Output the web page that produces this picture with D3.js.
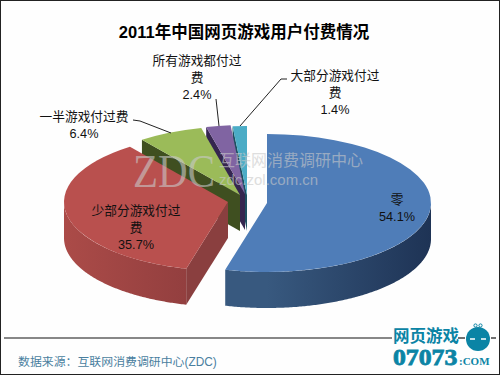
<!DOCTYPE html>
<html>
<head>
<meta charset="utf-8">
<script src="https://cdn.jsdelivr.net/npm/d3@7"></script>
<style>
    body { margin: 0; background: #fff; }
    svg { display: block; }
    text { font-family: "Liberation Sans", "Noto Sans CJK SC", sans-serif; }
</style>
</head>
<body>
<script>
// chart values
var categories = ["零", "少部分游戏付过费", "一半游戏付过费", "所有游戏都付过费", "大部分游戏付过费"];
var values = [54.1, 35.7, 6.4, 2.4, 1.4];
var topColors = ["#4f7db8", "#b9504e", "#9bbb59", "#8064a2", "#4bacc6"];
var faceColors = ["#2a4468", "#8a3f3f", "#3f4f20", "#35264f", "#1d4f60"];
var wallLeft = ["#38597f", "#ab4b48", "#3f4f20", "#35264f", "#1d4f60"];
var wallRight = ["#1e3355", "#933f3f", "#3f4f20", "#35264f", "#1d4f60"];

// where each exploded slice has its apex
var apexX = [267, 228, 240, 245, 247];
var apexY = [203, 202, 195, 194, 195];

var width = 500,
    height = 375,
    rx = 164,
    ry = 69,
    depth = 36;

var svg = d3.select("body").append("svg")
    .attr("width", width)
    .attr("height", height);

svg.append("rect")
    .attr("width", width)
    .attr("height", height)
    .attr("fill", "#fefefe");

var defs = svg.append("defs");

var pie = d3.pie().sort(null)(values);
var arc = d3.arc().innerRadius(0).outerRadius(rx);

function rimX(i, a) { return apexX[i] + rx * Math.sin(a); }
function rimY(i, a) { return apexY[i] - ry * Math.cos(a); }

// paint back slices first so the front ones cover them
d3.range(values.length - 1, -1, -1).forEach(function(i) {
    var d = pie[i];

    var grad = defs.append("linearGradient")
        .attr("id", "wall" + i)
        .attr("gradientUnits", "userSpaceOnUse")
        .attr("x1", rimX(i, Math.max(d.startAngle, Math.PI)))
        .attr("x2", rimX(i, Math.PI / 2))
        .attr("y1", 0)
        .attr("y2", 0);
    if (i === 1) {
        grad.attr("x1", rimX(i, 3 * Math.PI / 2)).attr("x2", rimX(i, d.startAngle));
    }
    grad.append("stop").attr("offset", 0).attr("stop-color", wallLeft[i]);
    grad.append("stop").attr("offset", 1).attr("stop-color", wallRight[i]);

    // flat cut face on the slice's starting edge
    var a0 = d.startAngle;
    svg.append("path")
        .attr("d", d3.line()([
            [apexX[i], apexY[i]],
            [rimX(i, a0), rimY(i, a0)],
            [rimX(i, a0), rimY(i, a0) + depth],
            [apexX[i], apexY[i] + depth]
        ]) + "Z")
        .attr("fill", faceColors[i]);

    // outer wall, only the part turned towards the viewer
    var from = Math.max(d.startAngle, Math.PI / 2),
        to = Math.min(d.endAngle, 3 * Math.PI / 2);
    if (from < to) {
        var steps = d3.range(from, to, 0.01).concat([to]);
        svg.append("path")
            .attr("d", d3.area()
                .x(function(a) { return rimX(i, a); })
                .y0(function(a) { return rimY(i, a); })
                .y1(function(a) { return rimY(i, a) + depth; })(steps))
            .attr("fill", "url(#wall" + i + ")");
    }

    // top of the slice, a circle squashed into an ellipse
    svg.append("path")
        .attr("d", arc(d))
        .attr("transform", "translate(" + apexX[i] + "," + apexY[i] + ") scale(1," + (ry / rx) + ")")
        .attr("fill", topColors[i]);
});

// ZDC watermark
var mark = svg.append("g").attr("fill", "#c9c9c9").attr("opacity", 0.6);
mark.append("text")
    .text("ZDC")
    .attr("transform", "translate(133,187) scale(1,1.15)")
    .style("font-family", "'Liberation Serif', serif")
    .attr("font-size", 41);
mark.append("text")
    .text("互联网消费调研中心")
    .attr("x", 219)
    .attr("y", 166)
    .attr("font-size", 16);
mark.append("text")
    .text("zdc.zol.com.cn")
    .attr("x", 219)
    .attr("y", 185)
    .attr("font-size", 15);

// leader lines
var leaderLines = [
    [[216, 99], [219, 126]],
    [[133, 120], [140, 121], [171, 133]],
    [[287, 79], [281, 79], [240, 126]]
];
svg.selectAll("path.leader")
    .data(leaderLines)
    .enter()
    .append("path")
    .attr("class", "leader")
    .attr("d", d3.line())
    .attr("fill", "none")
    .attr("stroke", "#222")
    .attr("stroke-width", 1);

// data labels, name lines then the value
var labelLines = [
    ["零", "54.1%"],
    ["少部分游戏付过", "费", "35.7%"],
    ["一半游戏付过费", "6.4%"],
    ["所有游戏都付过", "费", "2.4%"],
    ["大部分游戏付过", "费", "1.4%"]
];
var labelX = [397, 136, 84, 197, 335];
var labelY = [204, 215, 121, 65, 80];

labelLines.forEach(function(lines, i) {
    lines.forEach(function(t, j) {
        svg.append("text")
            .text(t)
            .attr("x", labelX[i])
            .attr("y", labelY[i] + j * 17)
            .attr("text-anchor", "middle")
            .attr("font-size", 12.7)
            .attr("fill", "#111");
    });
});

// title
svg.append("text")
    .text("2011年中国网页游戏用户付费情况")
    .attr("x", 244)
    .attr("y", 38)
    .attr("text-anchor", "middle")
    .attr("font-size", 16.5)
    .attr("font-weight", "bold")
    .attr("fill", "#000");

// footer rule and source
svg.append("line")
    .attr("x1", 4).attr("x2", 392)
    .attr("y1", 338).attr("y2", 338)
    .attr("stroke", "#111")
    .attr("stroke-width", 1.2);
svg.append("line")
    .attr("x1", 458).attr("x2", 465)
    .attr("y1", 338).attr("y2", 338)
    .attr("stroke", "#111")
    .attr("stroke-width", 1.2);
svg.append("line")
    .attr("x1", 491).attr("x2", 496)
    .attr("y1", 338).attr("y2", 338)
    .attr("stroke", "#111")
    .attr("stroke-width", 1.2);
svg.append("text")
    .text("数据来源：互联网消费调研中心(ZDC)")
    .attr("x", 18)
    .attr("y", 366)
    .attr("font-size", 11.9)
    .attr("fill", "#4a7f9f");

// 07073 logo
var logoColor = "#0b84a5";
svg.append("text")
    .text("网页游戏")
    .attr("x", 393)
    .attr("y", 342)
    .attr("font-size", 16.5)
    .attr("font-weight", "bold")
    .attr("fill", logoColor);
svg.append("text")
    .text("07073")
    .attr("transform", "translate(393,365) scale(1.12,1)")
    .style("font-family", "'Liberation Serif', serif")
    .attr("font-size", 23)
    .attr("font-weight", "bold")
    .attr("stroke", logoColor)
    .attr("stroke-width", 0.8)
    .attr("fill", logoColor);
svg.append("text")
    .text(":COM")
    .attr("transform", "translate(459,365) scale(1.1,1)")
    .style("font-family", "'Liberation Serif', serif")
    .attr("font-size", 10)
    .attr("font-weight", "bold")
    .attr("fill", logoColor);
svg.append("circle")
    .attr("cx", 478).attr("cy", 339).attr("r", 12)
    .attr("fill", logoColor);
svg.append("circle")
    .attr("cx", 475.5).attr("cy", 325.5).attr("r", 1.6)
    .attr("fill", "none").attr("stroke", logoColor);
svg.append("circle")
    .attr("cx", 480.5).attr("cy", 325.5).attr("r", 1.6)
    .attr("fill", "none").attr("stroke", logoColor);
svg.append("line")
    .attr("x1", 470).attr("x2", 475)
    .attr("y1", 339).attr("y2", 339)
    .attr("stroke", "#fff").attr("stroke-width", 1.5);
svg.append("line")
    .attr("x1", 481).attr("x2", 486)
    .attr("y1", 339).attr("y2", 339)
    .attr("stroke", "#fff").attr("stroke-width", 1.5);

// outer frame
svg.append("rect")
    .attr("x", 0.5).attr("y", 0.5)
    .attr("width", width - 1).attr("height", height - 1)
    .attr("fill", "none")
    .attr("stroke", "#222");
</script>
</body>
</html>
